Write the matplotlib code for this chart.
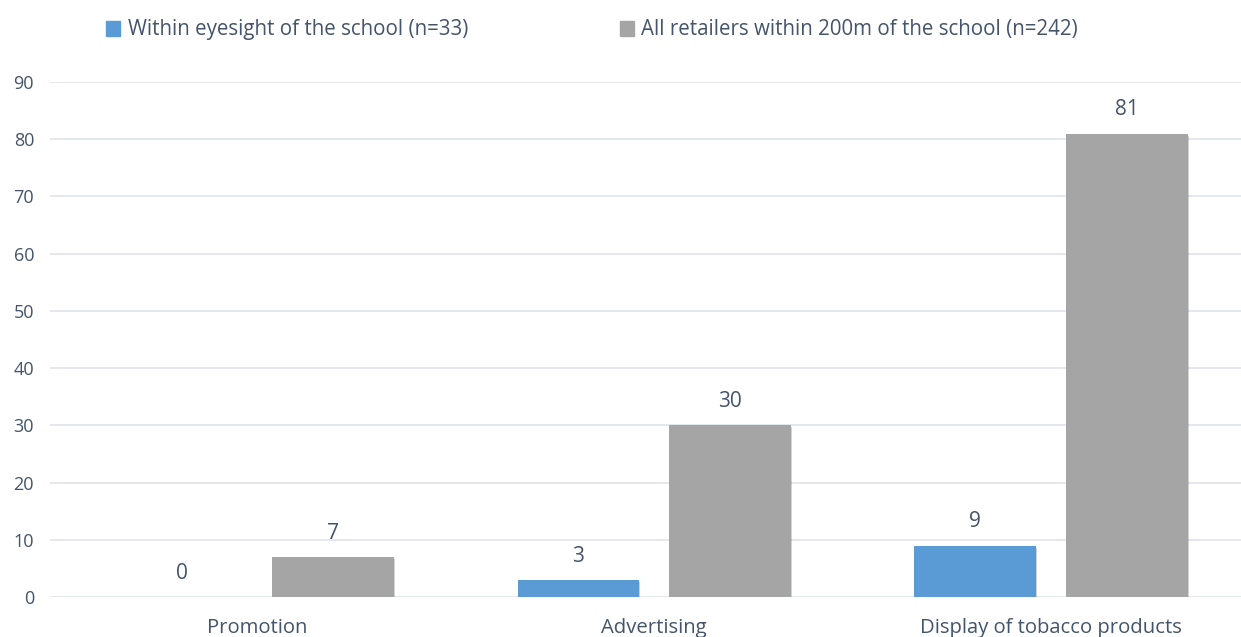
import numpy as np
import matplotlib
matplotlib.use('Agg')
import matplotlib.pyplot as plt
import matplotlib.patheffects as pe
from matplotlib.patches import Patch

plt.rcParams['font.family'] = ['Open Sans', 'DejaVu Sans']

categories = ['Promotion', 'Advertising', 'Display of tobacco products']
within_eyesight = [0, 3, 9]
all_retailers = [7, 30, 81]
series_names = ['Within eyesight of the school (n=33)',
                'All retailers within 200m of the school (n=242)']

text_color = '#44546A'
blue = '#5B9BD5'
grey = '#A5A5A5'

fig = plt.figure(figsize=(12.41, 6.37), dpi=100)
ax = fig.add_axes([50 / 1241, 40 / 637, 1191 / 1241, 515 / 637])

x = np.arange(len(categories))
w = 0.307
off = 0.191
# soft drop shadow like the original office chart
shadow = [pe.SimplePatchShadow(offset=(0.8, -1.5), alpha=0.22), pe.Normal()]
b1 = ax.bar(x - off, within_eyesight, w, color=blue, zorder=3, path_effects=shadow)
b2 = ax.bar(x + off, all_retailers, w, color=grey, zorder=3, path_effects=shadow)

for bars, vals in ((b1, within_eyesight), (b2, all_retailers)):
    for rect, v in zip(bars, vals):
        ax.annotate(str(v), (rect.get_x() + rect.get_width() / 2, v),
                    xytext=(0, 9.5), textcoords='offset points',
                    ha='center', va='bottom', fontsize=15, color=text_color)

ax.set_xlim(-0.523, 2.479)
ax.set_ylim(0, 90)
ax.set_yticks(np.arange(0, 91, 10))
ax.set_xticks(x)
ax.set_xticklabels(categories)
ax.tick_params(axis='y', length=0, labelsize=13, labelcolor=text_color, pad=11.5)
ax.tick_params(axis='x', length=0, labelsize=14.6, labelcolor=text_color, pad=15)
ax.yaxis.grid(True, color='#DFE3E8', linewidth=1.2, zorder=0)
ax.set_axisbelow(True)
for s in ax.spines.values():
    s.set_visible(False)

handles = [Patch(color=blue), Patch(color=grey)]
fig.legend(handles, series_names, loc='center',
           bbox_to_anchor=(592 / 1241, 1 - 30 / 637), ncol=2,
           frameon=False, fontsize=14.8, labelcolor=text_color,
           handlelength=0.7, handleheight=0.75, handletextpad=0.35,
           columnspacing=7.4)

fig.savefig('out.png', dpi=100)
